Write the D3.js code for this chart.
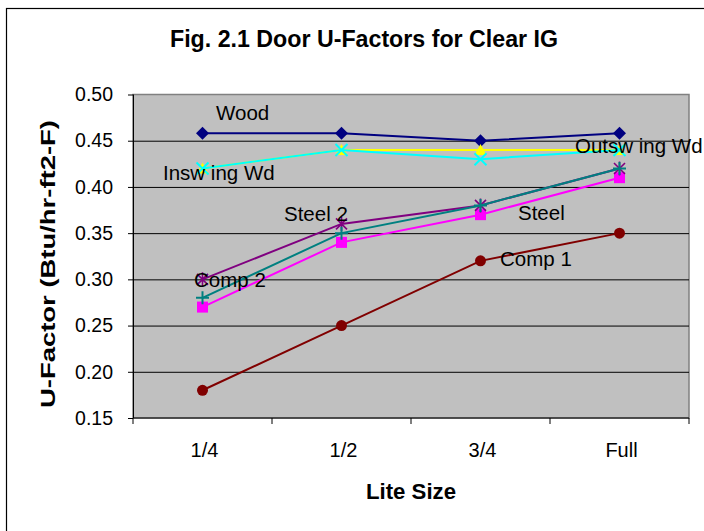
<!DOCTYPE html>
<html><head><meta charset="utf-8">
<script src="https://cdn.jsdelivr.net/npm/d3@7"></script>
<style>
body{margin:0;background:#fff}
svg{display:block}
text{font-family:"Liberation Sans",Arial,sans-serif;fill:#000}
</style>
</head><body>
<svg id="c" width="704" height="531"></svg>
<script>
// ---- data ----
const categories = ["1/4", "1/2", "3/4", "Full"];
const yTickValues = [0.15, 0.20, 0.25, 0.30, 0.35, 0.40, 0.45, 0.50];
const wood       = [0.458, 0.458, 0.450, 0.458];
const steel      = [0.27, 0.34, 0.37, 0.41];
const outswingWd = [0.42, 0.44, 0.44, 0.44];
const inswingWd  = [0.42, 0.44, 0.43, 0.44];
const steel2     = [0.30, 0.36, 0.38, 0.42];
const comp1      = [0.18, 0.25, 0.32, 0.35];
const comp2      = [0.28, 0.35, 0.38, 0.42];
const seriesNames = ["Wood", "Steel", "Outsw ing Wd", "Insw ing Wd", "Steel 2", "Comp 1", "Comp 2"];
const titleText = "Fig. 2.1 Door U-Factors for Clear IG";
const xTitle = "Lite Size";
const yTitle = "U-Factor (Btu/hr-ft2-F)";

// ---- styles ----
const seriesValues = [wood, steel, outswingWd, inswingWd, steel2, comp1, comp2];
const seriesStyle = [
  {color: "#000080", marker: "diamond"},
  {color: "#FF00FF", marker: "square"},
  {color: "#FFFF00", marker: "triangle"},
  {color: "#00FFFF", marker: "x"},
  {color: "#800080", marker: "asterisk"},
  {color: "#800000", marker: "circle"},
  {color: "#008080", marker: "plus"}
];
// annotation placement: series index, category index, pixel offset from that point
const labelPlacement = [
  {s: 0, c: 0, dx: 13.5, dy: -13},
  {s: 3, c: 0, dx: -39.5, dy: 11.5},
  {s: 2, c: 3, dx: -44.5, dy: 3},
  {s: 4, c: 1, dx: -57.5, dy: -3},
  {s: 1, c: 2, dx: 37.5, dy: 5.5},
  {s: 5, c: 2, dx: 19.5, dy: 5.5},
  {s: 6, c: 0, dx: -8.5, dy: -11}
];

const svg = d3.select("#c");
const L = 133, R = 689, T = 94.5, B = 418;

// outer chart border
svg.append("rect").attr("x", 6.5).attr("y", 8.5).attr("width", 900).attr("height", 700)
  .attr("fill", "#fff").attr("stroke", "#000").attr("stroke-width", 1.2);

const x = d3.scaleBand().domain(categories).range([L, R]);
const y = d3.scaleLinear().domain([0.15, 0.50]).range([B, T]);
const cx = d => x(d) + x.bandwidth() / 2;

// plot area
svg.append("rect").attr("x", L).attr("y", T).attr("width", R - L).attr("height", B - T)
  .attr("fill", "#C0C0C0").attr("stroke", "#808080").attr("stroke-width", 1.5);

// gridlines
svg.append("g").attr("transform", `translate(${L},0)`)
  .call(d3.axisLeft(y).tickValues(yTickValues.slice(1, -1)).tickSize(-(R - L)).tickFormat(""))
  .call(g => g.select(".domain").remove())
  .call(g => g.selectAll("line").attr("stroke", "#000").attr("stroke-width", 1));

// y axis
svg.append("g").attr("transform", `translate(${L},0)`)
  .call(d3.axisLeft(y).tickValues(yTickValues).tickSize(5).tickPadding(15).tickFormat(d3.format(".2f")))
  .call(g => g.select(".domain").attr("stroke", "#000").attr("d", `M0.5,${T}V${B}`))
  .call(g => g.selectAll("line").attr("stroke", "#000"))
  .call(g => g.selectAll("text").style("font-size", "19.5px")
     .style("font-family", '"Liberation Sans",Arial,sans-serif').attr("fill", "#000"));

// x axis line and ticks at band edges
const edges = categories.map(d => x(d)).concat([R]);
svg.append("line").attr("x1", L).attr("x2", R).attr("y1", B).attr("y2", B).attr("stroke", "#000").attr("stroke-width", 1.2);
svg.append("g").selectAll("line").data(edges).join("line")
  .attr("x1", d => d).attr("x2", d => d).attr("y1", B).attr("y2", B + 6).attr("stroke", "#000");
svg.append("g").selectAll("text").data(categories).join("text")
  .attr("x", d => cx(d) + 2).attr("y", 456.5).attr("text-anchor", "middle")
  .style("font-size", "20px").text(d => d);

// titles
svg.append("text").attr("x", 364).attr("y", 47).attr("text-anchor", "middle")
  .style("font-size", "23px").style("font-weight", "bold")
  .attr("textLength", 388).attr("lengthAdjust", "spacingAndGlyphs").text(titleText);
svg.append("text").attr("x", (L + R) / 2).attr("y", 498.5).attr("text-anchor", "middle")
  .style("font-size", "22px").style("font-weight", "bold")
  .attr("textLength", 90).attr("lengthAdjust", "spacingAndGlyphs").text(xTitle);
svg.append("text").attr("transform", "translate(55,264) rotate(-90)").attr("text-anchor", "middle")
  .style("font-size", "21px").style("font-weight", "bold")
  .attr("textLength", 288).attr("lengthAdjust", "spacingAndGlyphs").text(yTitle);

// series
const line = d3.line().x((v, i) => cx(categories[i])).y(v => y(v));
function marker(g, type, color) {
  if (type === "diamond") g.append("path").attr("d", "M0,-6.5L6.5,0L0,6.5L-6.5,0Z").attr("fill", color);
  else if (type === "square") g.append("rect").attr("x", -5.5).attr("y", -5.5).attr("width", 11).attr("height", 11).attr("fill", color);
  else if (type === "triangle") g.append("path").attr("d", "M0,-6L6,5L-6,5Z").attr("fill", color);
  else if (type === "circle") g.append("circle").attr("r", 5.5).attr("fill", color);
  else if (type === "x") g.append("path").attr("d", "M-6,-6L6,6M-6,6L6,-6").attr("stroke", color).attr("stroke-width", 2).attr("fill", "none");
  else if (type === "asterisk") g.append("path").attr("d", "M-5.5,-5.5L5.5,5.5M-5.5,5.5L5.5,-5.5M0,-7V7").attr("stroke", color).attr("stroke-width", 1.6).attr("fill", "none");
  else if (type === "plus") g.append("path").attr("d", "M-6.5,0H6.5M0,-6.5V6.5").attr("stroke", color).attr("stroke-width", 2).attr("fill", "none");
}
seriesValues.forEach((vals, si) => {
  const st = seriesStyle[si];
  const g = svg.append("g");
  g.append("path").attr("d", line(vals)).attr("fill", "none").attr("stroke", st.color).attr("stroke-width", 2);
  vals.forEach((v, i) => {
    const mg = g.append("g").attr("transform", `translate(${cx(categories[i])},${y(v)})`);
    marker(mg, st.marker, st.color);
  });
});

// annotations
labelPlacement.forEach(p => {
  svg.append("text")
    .attr("x", cx(categories[p.c]) + p.dx)
    .attr("y", y(seriesValues[p.s][p.c]) + p.dy)
    .style("font-size", "20.5px").text(seriesNames[p.s]);
});
</script>
</body></html>
